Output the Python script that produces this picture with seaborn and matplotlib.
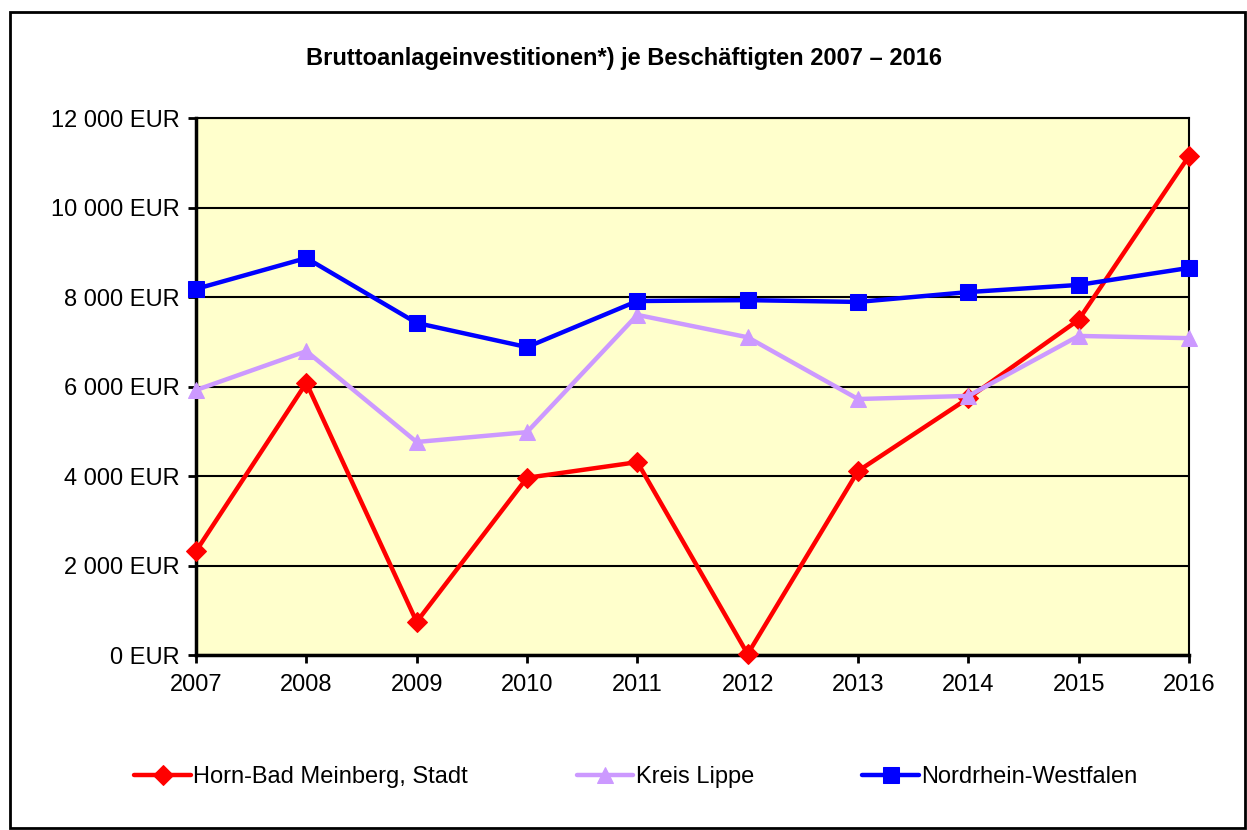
import matplotlib
matplotlib.use("Agg")
import matplotlib.pyplot as plt
import matplotlib.ticker as mticker
from matplotlib.patches import Rectangle
import seaborn as sns
import pandas as pd

years = [2007, 2008, 2009, 2010, 2011, 2012, 2013, 2014, 2015, 2016]
horn = [2320, 6080, 740, 3960, 4310, 20, 4110, 5740, 7490, 11150]
lippe = [5920, 6790, 4760, 4980, 7600, 7100, 5720, 5790, 7130, 7080]
nrw = [8180, 8870, 7420, 6880, 7910, 7930, 7890, 8110, 8270, 8650]
series_names = ["Horn-Bad Meinberg, Stadt", "Kreis Lippe", "Nordrhein-Westfalen"]
title = "Bruttoanlageinvestitionen*) je Beschäftigten 2007 – 2016"
yticks = [0, 2000, 4000, 6000, 8000, 10000, 12000]

sns.set_theme(style="white")
plt.rcParams['font.family'] = ['Liberation Sans', 'DejaVu Sans']
plt.rcParams['text.color'] = 'black'

df = pd.DataFrame({
    "Jahr": years * 3,
    "Wert": horn + lippe + nrw,
    "Serie": [series_names[0]] * 10 + [series_names[1]] * 10 + [series_names[2]] * 10,
})

fig = plt.figure(figsize=(12.47, 8.30), dpi=100)
ax = fig.add_axes([196/1247, 1 - 655/830, (1189 - 196)/1247, (655 - 118)/830])
ax.set_facecolor("#FFFFCC")

colors = {series_names[0]: "#FF0000", series_names[1]: "#CC99FF", series_names[2]: "#0000FF"}
markers = {series_names[0]: "D", series_names[1]: "^", series_names[2]: "s"}
msizes = {series_names[0]: 10, series_names[1]: 12, series_names[2]: 12}

for name in series_names:
    sub = df[df["Serie"] == name]
    sns.lineplot(data=sub, x="Jahr", y="Wert", ax=ax, color=colors[name],
                 marker=markers[name], markersize=msizes[name],
                 markeredgecolor=colors[name], linewidth=3.2, label=name,
                 clip_on=False, zorder=3)

ax.set_xlim(2007, 2016)
ax.set_ylim(0, 12000)
ax.set_xticks(years)
ax.set_yticks(yticks)
ax.yaxis.set_major_formatter(mticker.FuncFormatter(
    lambda v, p: f"{int(v):,} EUR".replace(",", " ")))
ax.set_xlabel("")
ax.set_ylabel("")
ax.grid(axis="y", color="black", linewidth=1.5)
ax.set_axisbelow(True)
for s in ax.spines.values():
    s.set_color("black")
    s.set_linewidth(1.5)
ax.spines["left"].set_linewidth(2.5)
ax.spines["bottom"].set_linewidth(2.5)
ax.tick_params(axis="both", labelsize=17, colors="black", direction="out",
               length=6, width=2, left=True, bottom=True)
ax.tick_params(axis="y", pad=6)
ax.tick_params(axis="x", pad=8)

ax.get_legend().remove()
handles, labels = ax.get_legend_handles_labels()
leg = fig.legend(handles, labels, loc="center", bbox_to_anchor=(0.510, 0.064), ncol=3,
                 frameon=False, fontsize=17, handlelength=2.4, handletextpad=0.1,
                 columnspacing=4.6)
for t in leg.get_texts():
    t.set_color("black")

fig.text(0.5, 1 - 58/830, title, ha="center", va="center", fontsize=17,
         fontweight="bold", color="black")

fig.patches.append(Rectangle((10/1247, 2/830), (1245 - 10)/1247, (818 - 2)/830,
                             transform=fig.transFigure, fill=False,
                             edgecolor="black", linewidth=2))

fig.savefig("out.png", dpi=100, facecolor="white")
